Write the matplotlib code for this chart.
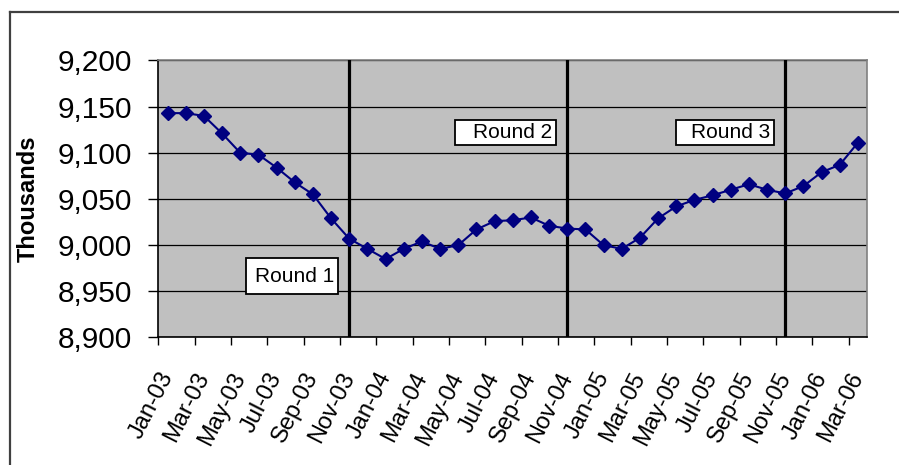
import matplotlib
matplotlib.use("Agg")
import matplotlib.pyplot as plt
from matplotlib.patches import Rectangle
from matplotlib.lines import Line2D
from matplotlib.ticker import FuncFormatter

plt.rcParams['font.family'] = ['Liberation Sans', 'DejaVu Sans']

months = ['Jan-03', 'Feb-03', 'Mar-03', 'Apr-03', 'May-03', 'Jun-03', 'Jul-03', 'Aug-03',
          'Sep-03', 'Oct-03', 'Nov-03', 'Dec-03', 'Jan-04', 'Feb-04', 'Mar-04', 'Apr-04',
          'May-04', 'Jun-04', 'Jul-04', 'Aug-04', 'Sep-04', 'Oct-04', 'Nov-04', 'Dec-04',
          'Jan-05', 'Feb-05', 'Mar-05', 'Apr-05', 'May-05', 'Jun-05', 'Jul-05', 'Aug-05',
          'Sep-05', 'Oct-05', 'Nov-05', 'Dec-05', 'Jan-06', 'Feb-06', 'Mar-06']
values = [9143, 9143, 9140, 9121, 9100, 9098, 9084, 9068, 9055, 9029,
          9007, 8996, 8985, 8996, 9004, 8996, 9000, 9017, 9026, 9027,
          9030, 9021, 9018, 9017, 9000, 8996, 9008, 9029, 9042, 9049,
          9054, 9060, 9066, 9060, 9056, 9064, 9079, 9087, 9111]
round_months = ['Nov-03', 'Nov-04', 'Nov-05']
round_labels = ['Round 1', 'Round 2', 'Round 3']
y_ticks = [8900, 8950, 9000, 9050, 9100, 9150, 9200]

fig = plt.figure(figsize=(8.99, 4.65), dpi=100)
ax = fig.add_axes([0.1763, 0.2742, 0.7881, 0.5957])
ax.set_facecolor('#C0C0C0')

x = list(range(len(months)))
ax.plot(x, values, color='#000080', lw=1.5, marker='D', ms=6.8, zorder=4)

# round separators
for m in round_months:
    ax.axvline(months.index(m), color='black', lw=2.3, zorder=3)

# text boxes (x0, x1, y0, y1 in data units)
boxes = [(4.3, 9.4, 8947, 8986), (15.8, 21.4, 9108, 9136), (28.0, 33.4, 9109, 9136)]
for (x0, x1, y0, y1), lab in zip(boxes, round_labels):
    ax.add_patch(Rectangle((x0, y0), x1 - x0, y1 - y0, facecolor='white',
                           edgecolor='black', lw=1.3, zorder=5))
    ax.text(x1 - 0.25, (y0 + y1) / 2, lab, ha='right', va='center',
            fontsize=15, zorder=6)

ax.set_xlim(-0.5, len(months) - 0.5)
ax.set_ylim(8900, 9200)
ax.set_yticks(y_ticks)
ax.yaxis.set_major_formatter(FuncFormatter(lambda v, p: f'{v:,.0f}'))
ax.tick_params(axis='y', labelsize=21.5, length=7, width=1, pad=12, direction='out')
ax.yaxis.grid(True, color='black', lw=0.9)
ax.set_axisbelow(True)

ax.set_xticks(x[::2])
ax.set_xticklabels(months[::2], rotation=63, ha='right', va='center',
                   rotation_mode='anchor', fontsize=17)
ax.tick_params(axis='x', which='major', length=0, pad=26)
ax.set_xticks([i - 0.5 for i in range(0, len(months), 2)], minor=True)
ax.tick_params(axis='x', which='minor', length=6, width=1, direction='out')

for s in ['top', 'right']:
    ax.spines[s].set_color('#808080')
    ax.spines[s].set_linewidth(1.2)
for s in ['left', 'bottom']:
    ax.spines[s].set_color('black')
    ax.spines[s].set_linewidth(1.2)

fig.text(0.031, 0.572, 'Thousands', rotation=90, ha='center', va='center',
         fontsize=17, fontweight='bold')

# outer chart frame (top and left edges visible)
fig.add_artist(Line2D([9.5 / 899, 1.0], [1 - 12.5 / 465, 1 - 12.5 / 465],
                      color='#404040', lw=1.6, transform=fig.transFigure))
fig.add_artist(Line2D([9.5 / 899, 9.5 / 899], [0.0, 1 - 12.5 / 465],
                      color='#404040', lw=1.6, transform=fig.transFigure))

fig.savefig('out.png', dpi=100)
